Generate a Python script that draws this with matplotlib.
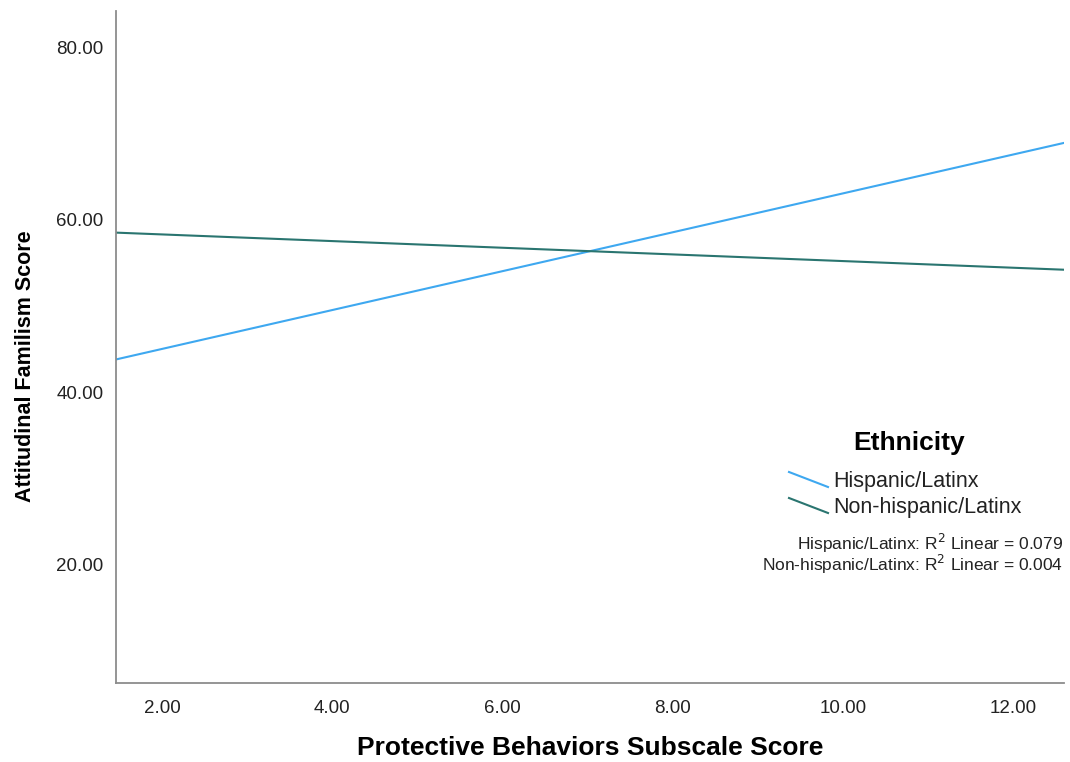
import numpy as np
import matplotlib.pyplot as plt

plt.rcParams['font.family'] = ['Liberation Sans', 'DejaVu Sans']

# fit-line end points across the x range
x_ends = [1.46, 12.6]
hispanic = [43.8, 68.9]
non_hispanic = [58.5, 54.2]

groups = ["Hispanic/Latinx", "Non-hispanic/Latinx"]
colors = ["#3ea8f0", "#2a7570"]
r2 = [0.079, 0.004]

x_ticks = [2, 4, 6, 8, 10, 12]
y_ticks = [20, 40, 60, 80]

fig = plt.figure(figsize=(10.7, 7.62), dpi=100)
ax = fig.add_axes([0.1084, 0.1037, 0.886, 0.882])

ax.plot(x_ends, hispanic, color=colors[0], lw=1.5)
ax.plot(x_ends, non_hispanic, color=colors[1], lw=1.5)

ax.set_xlim(1.46, 12.6)
ax.set_ylim(6.3, 84.2)
ax.set_xticks(x_ticks)
ax.set_xticklabels([f"{v:.2f}" for v in x_ticks], fontsize=13.5)
ax.set_yticks(y_ticks)
ax.set_yticklabels([f"{v:.2f}" for v in y_ticks], fontsize=13.5)
ax.tick_params(length=0, pad=12, colors="#222222")
ax.tick_params(axis="y", pad=9)

for s in ["top", "right"]:
    ax.spines[s].set_visible(False)
for s in ["left", "bottom"]:
    ax.spines[s].set_color("#8c8c8c")
    ax.spines[s].set_linewidth(1.3)

ax.set_xlabel("Protective Behaviors Subscale Score", fontsize=19, fontweight="bold", labelpad=14)
ax.set_ylabel("Attitudinal Familism Score", fontsize=15.5, fontweight="bold")
ax.yaxis.set_label_coords(-0.084, 0.472)

# legend drawn by hand in figure pixels
def fx(px):
    return px / 1070

def fy(py):
    return 1 - py / 762

fig.text(fx(909), fy(443), "Ethnicity", fontsize=19, fontweight="bold", ha="center", va="center")
for i, (g, c) in enumerate(zip(groups, colors)):
    y0 = 472 + i * 26
    fig.add_artist(plt.Line2D([fx(789), fx(828)], [fy(y0), fy(y0 + 15)], color=c, lw=1.5))
    fig.text(fx(833), fy(y0 + 9), g, fontsize=15.5, ha="left", va="center", color="#222222")

for i, (g, v) in enumerate(zip(groups, r2)):
    fig.text(fx(1063), fy(543 + i * 21), f"{g}: R$^2$ Linear = {v:.3f}",
             fontsize=12.5, ha="right", va="center", color="#222222")

fig.savefig("out.png", dpi=100, facecolor="white")
